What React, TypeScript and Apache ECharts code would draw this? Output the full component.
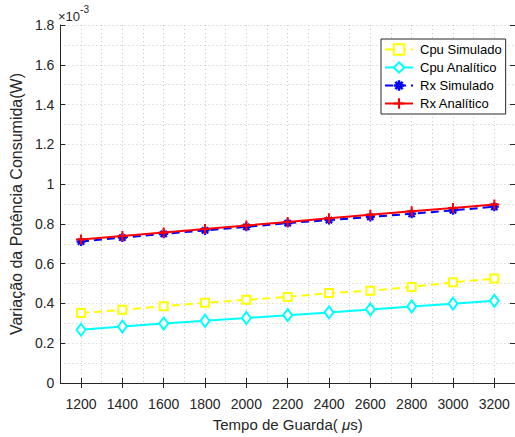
import React, { useEffect, useRef } from "react";
import * as echarts from "echarts";

// x-axis categories (µs) spanning the plotted range
const xCategories = [
  "1100", "1200", "1300", "1400", "1500", "1600", "1700", "1800", "1900", "2000", "2100",
  "2200", "2300", "2400", "2500", "2600", "2700", "2800", "2900", "3000", "3100", "3200", "3300",
];
const guardTimes = ["1200", "1400", "1600", "1800", "2000", "2200", "2400", "2600", "2800", "3000", "3200"];

// values in units of 1e-3 W
const cpuSimulado = [0.352, 0.368, 0.386, 0.403, 0.418, 0.433, 0.452, 0.464, 0.483, 0.506, 0.525];
const cpuAnalitico = [0.268, 0.284, 0.299, 0.313, 0.327, 0.341, 0.355, 0.370, 0.385, 0.399, 0.413];
const rxSimulado = [0.711, 0.731, 0.750, 0.767, 0.785, 0.804, 0.819, 0.835, 0.851, 0.868, 0.886];
const rxAnalitico = [0.721, 0.739, 0.757, 0.774, 0.792, 0.810, 0.828, 0.846, 0.863, 0.880, 0.897];

const seriesNames = ["Cpu Simulado", "Cpu Analítico", "Rx Simulado", "Rx Analítico"];

const FONT = "Liberation Sans, Arial, Helvetica, sans-serif";
const TEXT = "#262626";
const GRID = "#c8c8c8";

const plusPath =
  "path://M-1,-0.2L1,-0.2L1,0.2L-1,0.2Z M-0.2,-1L0.2,-1L0.2,1L-0.2,1Z";
const asteriskPath =
  "path://M-1,-0.24L1,-0.24L1,0.24L-1,0.24Z M-0.24,-1L0.24,-1L0.24,1L-0.24,1Z " +
  "M-0.53,-0.87L0.87,0.53L0.53,0.87L-0.87,-0.53Z M-0.87,0.53L0.53,-0.87L0.87,-0.53L-0.53,0.87Z";

function pairs(vals: number[]) {
  return guardTimes.map((t, i) => [t, vals[i]]);
}

export default function App() {
  const ref = useRef<HTMLDivElement>(null);
  useEffect(() => {
    if (!ref.current) return;
    const chart = echarts.init(ref.current, null, { renderer: "svg" });
    const tickEvery200 = (idx: number) => idx % 2 === 1;
    chart.setOption({
      animation: false,
      backgroundColor: "#ffffff",
      textStyle: { fontFamily: FONT, color: TEXT },
      grid: { left: 58, top: 25, width: 460, height: 362 },
      legend: {
        orient: "vertical",
        left: 381,
        top: 39,
        itemWidth: 28,
        itemHeight: 13,
        itemGap: 5,
        padding: [4, 4, 4, 3],
        borderColor: TEXT,
        borderWidth: 1,
        backgroundColor: "#ffffff",
        textStyle: { fontFamily: FONT, fontSize: 13, color: "#000", padding: [0, 0, 0, 2] },
        data: seriesNames,
      },
      graphic: [
        {
          type: "text",
          left: 58,
          top: 4,
          style: {
            text: "{a|×10}{b|-3}",
            rich: {
              a: { fontFamily: FONT, fontSize: 13, fill: TEXT, padding: [6, 0, 0, 0] },
              b: { fontFamily: FONT, fontSize: 10, fill: TEXT, verticalAlign: "top" },
            },
          },
        },
      ],
      xAxis: [
        {
          type: "category",
          data: xCategories,
          boundaryGap: false,
          name: "{n|Tempo de Guarda( }{i|μ}{n|s)}",
          nameLocation: "middle",
          nameGap: 34,
          nameTextStyle: {
            rich: {
              n: { fontFamily: FONT, fontSize: 15, color: TEXT },
              i: { fontFamily: FONT, fontSize: 15, color: TEXT, fontStyle: "italic" },
            },
          },
          axisLine: { lineStyle: { color: TEXT, width: 1 } },
          axisTick: { inside: true, length: 5, interval: tickEvery200, lineStyle: { color: TEXT } },
          axisLabel: { interval: tickEvery200, fontSize: 14, color: TEXT, fontFamily: FONT, margin: 14 },
          splitLine: { show: true, interval: 0, lineStyle: { color: GRID, type: [1, 3] } },
        },
        {
          type: "category",
          data: xCategories,
          boundaryGap: false,
          position: "top",
          axisLine: { lineStyle: { color: TEXT, width: 1 } },
          axisTick: { inside: true, length: 5, interval: tickEvery200, lineStyle: { color: TEXT } },
          axisLabel: { show: false },
          splitLine: { show: false },
        },
      ],
      yAxis: [
        {
          type: "value",
          min: 0,
          max: 1.8,
          interval: 0.2,
          name: "Variação da Potência Consumida(W)",
          nameLocation: "middle",
          nameGap: 32,
          nameTextStyle: { fontFamily: FONT, fontSize: 16, color: TEXT },
          axisLine: { show: true, lineStyle: { color: TEXT, width: 1 } },
          axisTick: { show: true, inside: true, length: 5, lineStyle: { color: TEXT } },
          axisLabel: { fontSize: 14, color: TEXT, fontFamily: FONT, margin: 6 },
          splitLine: { show: true, lineStyle: { color: GRID, type: [1, 3] } },
          minorTick: { show: false, splitNumber: 2 },
          minorSplitLine: { show: true, lineStyle: { color: GRID, type: [1, 3] } },
        },
        {
          type: "value",
          min: 0,
          max: 1.8,
          interval: 0.2,
          position: "right",
          axisLine: { show: true, lineStyle: { color: TEXT, width: 1 } },
          axisTick: { show: true, inside: true, length: 5, lineStyle: { color: TEXT } },
          axisLabel: { show: false },
          splitLine: { show: false },
        },
      ],
      series: [
        {
          name: seriesNames[0],
          type: "line",
          data: pairs(cpuSimulado),
          symbol: "rect",
          symbolSize: 8,
          lineStyle: { color: "#ffff00", width: 2, type: [8, 5] },
          itemStyle: { color: "#ffffff", borderColor: "#ffff00", borderWidth: 2 },
          z: 2,
        },
        {
          name: seriesNames[1],
          type: "line",
          data: pairs(cpuAnalitico),
          symbol: "diamond",
          symbolSize: [9, 12],
          lineStyle: { color: "#00ffff", width: 2 },
          itemStyle: { color: "#ffffff", borderColor: "#00ffff", borderWidth: 2 },
          z: 3,
        },
        {
          name: seriesNames[2],
          type: "line",
          data: pairs(rxSimulado),
          symbol: asteriskPath,
          symbolSize: 9,
          lineStyle: { color: "#0000ff", width: 2, type: [8, 5] },
          itemStyle: { color: "#0000ff" },
          z: 4,
        },
        {
          name: seriesNames[3],
          type: "line",
          data: pairs(rxAnalitico),
          symbol: plusPath,
          symbolSize: 10,
          lineStyle: { color: "#ff0000", width: 2 },
          itemStyle: { color: "#ff0000" },
          z: 5,
        },
      ],
    });
    return () => chart.dispose();
  }, []);
  return (
    <div
      ref={ref}
      style={{ position: "fixed", left: 0, top: 0, width: 515, height: 437, background: "#fff" }}
    />
  );
}
